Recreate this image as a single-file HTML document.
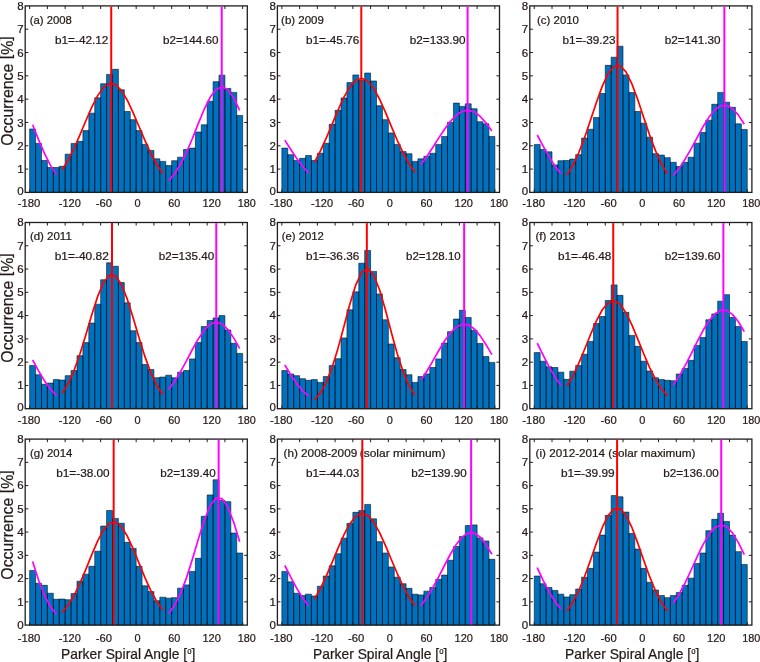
<!DOCTYPE html>
<html lang="en">
<head>
<meta charset="utf-8">
<title>Parker Spiral Angle occurrence histograms 2008-2014</title>
<style>
html,body{margin:0;padding:0;background:#fff;}
body{width:760px;height:662px;overflow:hidden;}
svg{display:block;transform:translateZ(0);will-change:transform;}
</style>
</head>
<body>
<svg width="760" height="662" viewBox="0 0 760 662" font-family="'Liberation Sans', sans-serif" fill="#231815" stroke="#231815" stroke-width="0.22">
<rect x="0" y="0" width="760" height="662" fill="#fff" stroke="none"/>
<g>
<path d="M29.65 192.4V128.99H35.57V192.4ZM35.57 192.4V143.44H41.48V192.4ZM41.48 192.4V160.46H47.4V192.4ZM47.4 192.4V167.46H53.32V192.4ZM53.32 192.4V167.46H59.23V192.4ZM59.23 192.4V166.29H65.15V192.4ZM65.15 192.4V154.17H71.07V192.4ZM71.07 192.4V143.44H76.99V192.4ZM76.99 192.4V141.35H82.9V192.4ZM82.9 192.4V130.62H88.82V192.4ZM88.82 192.4V113.14H94.74V192.4ZM94.74 192.4V97.75H100.65V192.4ZM100.65 192.4V83.76H106.57V192.4ZM106.57 192.4V74.44H112.49V192.4ZM112.49 192.4V69.31H118.41V192.4ZM118.41 192.4V89.83H124.32V192.4ZM124.32 192.4V111.51H130.24V192.4ZM130.24 192.4V119.67H136.16V192.4ZM136.16 192.4V130.62H142.07V192.4ZM142.07 192.4V144.38H147.99V192.4ZM147.99 192.4V150.44H153.91V192.4ZM153.91 192.4V158.83H159.82V192.4ZM159.82 192.4V161.39H165.74V192.4ZM165.74 192.4V165.59H171.66V192.4ZM171.66 192.4V160.69H177.57V192.4ZM177.57 192.4V157.2H183.49V192.4ZM183.49 192.4V149.5H189.41V192.4ZM189.41 192.4V148.11H195.33V192.4ZM195.33 192.4V132.02H201.24V192.4ZM201.24 192.4V124.79H207.16V192.4ZM207.16 192.4V101.25H213.08V192.4ZM213.08 192.4V81.67H218.99V192.4ZM218.99 192.4V75.14H224.91V192.4ZM224.91 192.4V88.43H230.83V192.4ZM230.83 192.4V92.39H236.75V192.4ZM236.75 192.4V115.47H242.66V192.4Z" fill="#0072bd" stroke="#001020" stroke-width="0.58" stroke-linejoin="miter"/>
<rect x="25.2" y="5.9" width="222.1" height="186.5" fill="none" stroke="#1e1e1e" stroke-width="1.3"/>
<path d="M29.65 5.9v3.1M29.65 192.4v-3.1M47.4 5.9v3.1M47.4 192.4v-3.1M65.15 5.9v3.1M65.15 192.4v-3.1M82.9 5.9v3.1M82.9 192.4v-3.1M100.65 5.9v3.1M100.65 192.4v-3.1M118.41 5.9v3.1M118.41 192.4v-3.1M136.16 5.9v3.1M136.16 192.4v-3.1M153.91 5.9v3.1M153.91 192.4v-3.1M171.66 5.9v3.1M171.66 192.4v-3.1M189.41 5.9v3.1M189.41 192.4v-3.1M207.16 5.9v3.1M207.16 192.4v-3.1M224.91 5.9v3.1M224.91 192.4v-3.1M242.66 5.9v3.1M242.66 192.4v-3.1M25.2 169.09h3.1M247.3 169.09h-3.1M25.2 145.78h3.1M247.3 145.78h-3.1M25.2 122.46h3.1M247.3 122.46h-3.1M25.2 99.15h3.1M247.3 99.15h-3.1M25.2 75.84h3.1M247.3 75.84h-3.1M25.2 52.53h3.1M247.3 52.53h-3.1M25.2 29.21h3.1M247.3 29.21h-3.1" fill="none" stroke="#1e1e1e" stroke-width="1"/>
<text x="23.6" y="195.3" font-size="11.5" text-anchor="end">0</text>
<text x="23.6" y="173.19" font-size="11.5" text-anchor="end">1</text>
<text x="23.6" y="149.88" font-size="11.5" text-anchor="end">2</text>
<text x="23.6" y="126.56" font-size="11.5" text-anchor="end">3</text>
<text x="23.6" y="103.25" font-size="11.5" text-anchor="end">4</text>
<text x="23.6" y="79.94" font-size="11.5" text-anchor="end">5</text>
<text x="23.6" y="56.63" font-size="11.5" text-anchor="end">6</text>
<text x="23.6" y="33.31" font-size="11.5" text-anchor="end">7</text>
<text x="23.6" y="10" font-size="11.5" text-anchor="end">8</text>
<text x="17.7" y="207.3" font-size="11.8" textLength="22.7" lengthAdjust="spacingAndGlyphs">-180</text>
<text x="58.8" y="207.3" font-size="11.8" textLength="22" lengthAdjust="spacingAndGlyphs">-120</text>
<text x="95.8" y="207.3" font-size="11.8" textLength="16.3" lengthAdjust="spacingAndGlyphs">-60</text>
<text x="134.6" y="207.3" font-size="11.8" textLength="6.1" lengthAdjust="spacingAndGlyphs">0</text>
<text x="168.3" y="207.3" font-size="11.8" textLength="12" lengthAdjust="spacingAndGlyphs">60</text>
<text x="202.4" y="207.3" font-size="11.8" textLength="18.4" lengthAdjust="spacingAndGlyphs">120</text>
<text x="237.7" y="207.3" font-size="11.8" textLength="18.1" lengthAdjust="spacingAndGlyphs">180</text>
<text x="29.8" y="23.6" font-size="11.3" textLength="42.1" lengthAdjust="spacingAndGlyphs">(a) 2008</text>
<text x="55" y="43.5" font-size="11.3" textLength="53.4" lengthAdjust="spacingAndGlyphs">b1=-42.12</text>
<text x="163" y="43.5" font-size="11.3" textLength="55.5" lengthAdjust="spacingAndGlyphs">b2=144.60</text>
<polyline points="62.19,169.75 68.11,160.05 74.03,148.26 79.94,134.87 85.86,120.77 91.78,107.21 97.7,95.62 103.61,87.36 109.53,83.5 115.45,84.56 121.36,90.38 127.28,100.2 133.2,112.81 139.11,126.76 145.03,140.7 150.95,153.49 156.87,164.43 162.78,173.2" fill="none" stroke="#ff0000" stroke-width="1.7" stroke-linecap="butt" stroke-linejoin="round"/>
<polyline points="168.7,180.62 174.62,173.7 180.53,164.29 186.45,152.39 192.37,138.48 198.28,123.59 204.2,109.28 210.12,97.32 216.04,89.42 221.95,86.8 227.87,89.87 233.79,98.14 239.7,110.36" fill="none" stroke="#ff00ff" stroke-width="1.7" stroke-linejoin="round"/>
<polyline points="32.61,124.79 38.53,139.64 44.44,153.42 50.36,165.13 56.28,174.34" fill="none" stroke="#ff00ff" stroke-width="1.7" stroke-linejoin="round"/>
<line x1="111.23" y1="6.5" x2="111.23" y2="191.8" stroke="#ff0000" stroke-width="2"/>
<line x1="221.72" y1="6.5" x2="221.72" y2="191.8" stroke="#ff00ff" stroke-width="2"/>
</g>
<g>
<path d="M281.85 192.4V148.11H287.77V192.4ZM287.77 192.4V154.63H293.68V192.4ZM293.68 192.4V160.46H299.6V192.4ZM299.6 192.4V158.36H305.52V192.4ZM305.52 192.4V155.57H311.43V192.4ZM311.43 192.4V160.46H317.35V192.4ZM317.35 192.4V153.24H323.27V192.4ZM323.27 192.4V143.21H329.19V192.4ZM329.19 192.4V124.33H335.1V192.4ZM335.1 192.4V110.34H341.02V192.4ZM341.02 192.4V97.98H346.94V192.4ZM346.94 192.4V82.6H352.85V192.4ZM352.85 192.4V74.91H358.77V192.4ZM358.77 192.4V80.27H364.69V192.4ZM364.69 192.4V73.04H370.6V192.4ZM370.6 192.4V80.97H376.52V192.4ZM376.52 192.4V105.68H382.44V192.4ZM382.44 192.4V119.67H388.36V192.4ZM388.36 192.4V132.95H394.27V192.4ZM394.27 192.4V144.38H400.19V192.4ZM400.19 192.4V151.6H406.11V192.4ZM406.11 192.4V153.7H412.02V192.4ZM412.02 192.4V161.39H417.94V192.4ZM417.94 192.4V158.83H423.86V192.4ZM423.86 192.4V156.27H429.77V192.4ZM429.77 192.4V153.24H435.69V192.4ZM435.69 192.4V144.38H441.61V192.4ZM441.61 192.4V136.45H447.53V192.4ZM447.53 192.4V122.23H453.44V192.4ZM453.44 192.4V103.11H459.36V192.4ZM459.36 192.4V106.38H465.28V192.4ZM465.28 192.4V103.81H471.19V192.4ZM471.19 192.4V108.71H477.11V192.4ZM477.11 192.4V121.76H483.03V192.4ZM483.03 192.4V123.86H488.94V192.4ZM488.94 192.4V136.45H494.86V192.4Z" fill="#0072bd" stroke="#001020" stroke-width="0.58" stroke-linejoin="miter"/>
<rect x="277.4" y="5.9" width="222.1" height="186.5" fill="none" stroke="#1e1e1e" stroke-width="1.3"/>
<path d="M281.85 5.9v3.1M281.85 192.4v-3.1M299.6 5.9v3.1M299.6 192.4v-3.1M317.35 5.9v3.1M317.35 192.4v-3.1M335.1 5.9v3.1M335.1 192.4v-3.1M352.85 5.9v3.1M352.85 192.4v-3.1M370.6 5.9v3.1M370.6 192.4v-3.1M388.36 5.9v3.1M388.36 192.4v-3.1M406.11 5.9v3.1M406.11 192.4v-3.1M423.86 5.9v3.1M423.86 192.4v-3.1M441.61 5.9v3.1M441.61 192.4v-3.1M459.36 5.9v3.1M459.36 192.4v-3.1M477.11 5.9v3.1M477.11 192.4v-3.1M494.86 5.9v3.1M494.86 192.4v-3.1M277.4 169.09h3.1M499.5 169.09h-3.1M277.4 145.78h3.1M499.5 145.78h-3.1M277.4 122.46h3.1M499.5 122.46h-3.1M277.4 99.15h3.1M499.5 99.15h-3.1M277.4 75.84h3.1M499.5 75.84h-3.1M277.4 52.53h3.1M499.5 52.53h-3.1M277.4 29.21h3.1M499.5 29.21h-3.1" fill="none" stroke="#1e1e1e" stroke-width="1"/>
<text x="275.8" y="195.3" font-size="11.5" text-anchor="end">0</text>
<text x="275.8" y="173.19" font-size="11.5" text-anchor="end">1</text>
<text x="275.8" y="149.88" font-size="11.5" text-anchor="end">2</text>
<text x="275.8" y="126.56" font-size="11.5" text-anchor="end">3</text>
<text x="275.8" y="103.25" font-size="11.5" text-anchor="end">4</text>
<text x="275.8" y="79.94" font-size="11.5" text-anchor="end">5</text>
<text x="275.8" y="56.63" font-size="11.5" text-anchor="end">6</text>
<text x="275.8" y="33.31" font-size="11.5" text-anchor="end">7</text>
<text x="275.8" y="10" font-size="11.5" text-anchor="end">8</text>
<text x="269.9" y="207.3" font-size="11.8" textLength="22.7" lengthAdjust="spacingAndGlyphs">-180</text>
<text x="311" y="207.3" font-size="11.8" textLength="22" lengthAdjust="spacingAndGlyphs">-120</text>
<text x="348" y="207.3" font-size="11.8" textLength="16.3" lengthAdjust="spacingAndGlyphs">-60</text>
<text x="386.8" y="207.3" font-size="11.8" textLength="6.1" lengthAdjust="spacingAndGlyphs">0</text>
<text x="420.5" y="207.3" font-size="11.8" textLength="12" lengthAdjust="spacingAndGlyphs">60</text>
<text x="454.6" y="207.3" font-size="11.8" textLength="18.4" lengthAdjust="spacingAndGlyphs">120</text>
<text x="489.9" y="207.3" font-size="11.8" textLength="18.1" lengthAdjust="spacingAndGlyphs">180</text>
<text x="281.1" y="23.6" font-size="11.3" textLength="42.8" lengthAdjust="spacingAndGlyphs">(b) 2009</text>
<text x="305.9" y="43.5" font-size="11.3" textLength="53.4" lengthAdjust="spacingAndGlyphs">b1=-45.76</text>
<text x="409.7" y="43.5" font-size="11.3" textLength="55.9" lengthAdjust="spacingAndGlyphs">b2=133.90</text>
<polyline points="314.39,162.32 320.31,151.16 326.23,138.21 332.14,124.16 338.06,110.05 343.98,97.15 349.9,86.81 355.81,80.22 361.73,78.18 367.65,80.94 373.56,88.17 379.48,98.97 385.4,112.15 391.31,126.33 397.23,140.27 403.15,152.98 409.07,163.83 414.98,172.56" fill="none" stroke="#ff0000" stroke-width="1.7" stroke-linecap="butt" stroke-linejoin="round"/>
<polyline points="420.9,164.55 426.82,156.38 432.73,147.41 438.65,138.12 444.57,129.16 450.48,121.24 456.4,115.07 462.32,111.23 468.24,110.12 474.15,111.85 480.07,116.24 485.99,122.86 491.9,131.07" fill="none" stroke="#ff00ff" stroke-width="1.7" stroke-linejoin="round"/>
<polyline points="284.81,140.16 290.73,149.43 296.64,158.26 302.56,166.21 308.48,172.99" fill="none" stroke="#ff00ff" stroke-width="1.7" stroke-linejoin="round"/>
<line x1="361.28" y1="6.5" x2="361.28" y2="191.8" stroke="#ff0000" stroke-width="2"/>
<line x1="467.58" y1="6.5" x2="467.58" y2="191.8" stroke="#ff00ff" stroke-width="2"/>
</g>
<g>
<path d="M534.25 192.4V144.38H540.17V192.4ZM540.17 192.4V149.5H546.08V192.4ZM546.08 192.4V151.84H552V192.4ZM552 192.4V164.89H557.92V192.4ZM557.92 192.4V160.69H563.84V192.4ZM563.84 192.4V160.46H569.75V192.4ZM569.75 192.4V159.06H575.67V192.4ZM575.67 192.4V154.63H581.59V192.4ZM581.59 192.4V138.08H587.5V192.4ZM587.5 192.4V129.22H593.42V192.4ZM593.42 192.4V117.57H599.34V192.4ZM599.34 192.4V93.56H605.25V192.4ZM605.25 192.4V65.35H611.17V192.4ZM611.17 192.4V57.19H617.09V192.4ZM617.09 192.4V46.23H623V192.4ZM623 192.4V74.91H628.92V192.4ZM628.92 192.4V92.62H634.84V192.4ZM634.84 192.4V111.51H640.76V192.4ZM640.76 192.4V123.16H646.67V192.4ZM646.67 192.4V137.15H652.59V192.4ZM652.59 192.4V153.7H658.51V192.4ZM658.51 192.4V155.1H664.42V192.4ZM664.42 192.4V157.66H670.34V192.4ZM670.34 192.4V162.33H676.26V192.4ZM676.26 192.4V166.52H682.18V192.4ZM682.17 192.4V162.33H688.09V192.4ZM688.09 192.4V157.2H694.01V192.4ZM694.01 192.4V143.21H699.93V192.4ZM699.93 192.4V132.49H705.84V192.4ZM705.84 192.4V120.13H711.76V192.4ZM711.76 192.4V104.28H717.68V192.4ZM717.68 192.4V92.39H723.59V192.4ZM723.59 192.4V102.18H729.51V192.4ZM729.51 192.4V107.31H735.43V192.4ZM735.43 192.4V123.86H741.35V192.4ZM741.35 192.4V129.46H747.26V192.4Z" fill="#0072bd" stroke="#001020" stroke-width="0.58" stroke-linejoin="miter"/>
<rect x="529.8" y="5.9" width="222.1" height="186.5" fill="none" stroke="#1e1e1e" stroke-width="1.3"/>
<path d="M534.25 5.9v3.1M534.25 192.4v-3.1M552 5.9v3.1M552 192.4v-3.1M569.75 5.9v3.1M569.75 192.4v-3.1M587.5 5.9v3.1M587.5 192.4v-3.1M605.25 5.9v3.1M605.25 192.4v-3.1M623 5.9v3.1M623 192.4v-3.1M640.76 5.9v3.1M640.76 192.4v-3.1M658.51 5.9v3.1M658.51 192.4v-3.1M676.26 5.9v3.1M676.26 192.4v-3.1M694.01 5.9v3.1M694.01 192.4v-3.1M711.76 5.9v3.1M711.76 192.4v-3.1M729.51 5.9v3.1M729.51 192.4v-3.1M747.26 5.9v3.1M747.26 192.4v-3.1M529.8 169.09h3.1M751.9 169.09h-3.1M529.8 145.78h3.1M751.9 145.78h-3.1M529.8 122.46h3.1M751.9 122.46h-3.1M529.8 99.15h3.1M751.9 99.15h-3.1M529.8 75.84h3.1M751.9 75.84h-3.1M529.8 52.53h3.1M751.9 52.53h-3.1M529.8 29.21h3.1M751.9 29.21h-3.1" fill="none" stroke="#1e1e1e" stroke-width="1"/>
<text x="528.2" y="195.3" font-size="11.5" text-anchor="end">0</text>
<text x="528.2" y="173.19" font-size="11.5" text-anchor="end">1</text>
<text x="528.2" y="149.88" font-size="11.5" text-anchor="end">2</text>
<text x="528.2" y="126.56" font-size="11.5" text-anchor="end">3</text>
<text x="528.2" y="103.25" font-size="11.5" text-anchor="end">4</text>
<text x="528.2" y="79.94" font-size="11.5" text-anchor="end">5</text>
<text x="528.2" y="56.63" font-size="11.5" text-anchor="end">6</text>
<text x="528.2" y="33.31" font-size="11.5" text-anchor="end">7</text>
<text x="528.2" y="10" font-size="11.5" text-anchor="end">8</text>
<text x="522.3" y="207.3" font-size="11.8" textLength="22.7" lengthAdjust="spacingAndGlyphs">-180</text>
<text x="563.4" y="207.3" font-size="11.8" textLength="22" lengthAdjust="spacingAndGlyphs">-120</text>
<text x="600.4" y="207.3" font-size="11.8" textLength="16.3" lengthAdjust="spacingAndGlyphs">-60</text>
<text x="639.2" y="207.3" font-size="11.8" textLength="6.1" lengthAdjust="spacingAndGlyphs">0</text>
<text x="672.9" y="207.3" font-size="11.8" textLength="12" lengthAdjust="spacingAndGlyphs">60</text>
<text x="707" y="207.3" font-size="11.8" textLength="18.4" lengthAdjust="spacingAndGlyphs">120</text>
<text x="742.3" y="207.3" font-size="11.8" textLength="18.1" lengthAdjust="spacingAndGlyphs">180</text>
<text x="537" y="23.6" font-size="11.3" textLength="42" lengthAdjust="spacingAndGlyphs">(c) 2010</text>
<text x="562.4" y="43.5" font-size="11.3" textLength="53.2" lengthAdjust="spacingAndGlyphs">b1=-39.23</text>
<text x="664.7" y="43.5" font-size="11.3" textLength="55.9" lengthAdjust="spacingAndGlyphs">b2=141.30</text>
<polyline points="566.79,175.12 572.71,165.6 578.63,153.05 584.54,137.68 590.46,120.31 596.38,102.46 602.3,86.11 608.21,73.42 614.13,66.26 620.05,65.73 625.96,71.92 631.88,83.86 637.8,99.79 643.71,117.55 649.63,135.1 655.55,150.86 661.47,163.87 667.38,173.84" fill="none" stroke="#ff0000" stroke-width="1.7" stroke-linecap="butt" stroke-linejoin="round"/>
<polyline points="673.3,175.43 679.22,168.13 685.13,159.18 691.05,148.89 696.97,137.86 702.88,126.99 708.8,117.33 714.72,109.94 720.64,105.74 726.55,105.24 732.47,108.52 738.39,115.15 744.3,124.32" fill="none" stroke="#ff00ff" stroke-width="1.7" stroke-linejoin="round"/>
<polyline points="537.21,134.98 543.13,146.06 549.04,156.62 554.96,165.96 560.88,173.7" fill="none" stroke="#ff00ff" stroke-width="1.7" stroke-linejoin="round"/>
<line x1="617.54" y1="6.5" x2="617.54" y2="191.8" stroke="#ff0000" stroke-width="2"/>
<line x1="724.36" y1="6.5" x2="724.36" y2="191.8" stroke="#ff00ff" stroke-width="2"/>
</g>
<g>
<path d="M29.65 408.7V365.41H35.57V408.7ZM35.57 408.7V374.72H41.48V408.7ZM41.48 408.7V384.26H47.4V408.7ZM47.4 408.7V383.1H53.32V408.7ZM53.32 408.7V379.61H59.23V408.7ZM59.23 408.7V380.07H65.15V408.7ZM65.15 408.7V375.65H71.07V408.7ZM71.07 408.7V370.53H76.99V408.7ZM76.99 408.7V355.63H82.9V408.7ZM82.9 408.7V342.6H88.82V408.7ZM88.82 408.7V323.05H94.74V408.7ZM94.74 408.7V304.2H100.65V408.7ZM100.65 408.7V279.76H106.57V408.7ZM106.57 408.7V262.77H112.49V408.7ZM112.49 408.7V266.26H118.41V408.7ZM118.41 408.7V282.55H124.32V408.7ZM124.32 408.7V302.8H130.24V408.7ZM130.24 408.7V330.73H136.16V408.7ZM136.16 408.7V342.6H142.07V408.7ZM142.07 408.7V364.48H147.99V408.7ZM147.99 408.7V369.6H153.91V408.7ZM153.91 408.7V377.74H159.82V408.7ZM159.82 408.7V377.05H165.74V408.7ZM165.74 408.7V375.18H171.66V408.7ZM171.66 408.7V377.74H177.57V408.7ZM177.57 408.7V372.16H183.49V408.7ZM183.49 408.7V370.53H189.41V408.7ZM189.41 408.7V358.89H195.33V408.7ZM195.33 408.7V342.6H201.24V408.7ZM201.24 408.7V326.54H207.16V408.7ZM207.16 408.7V320.49H213.08V408.7ZM213.08 408.7V317.93H218.99V408.7ZM218.99 408.7V315.6H224.91V408.7ZM224.91 408.7V330.03H230.83V408.7ZM230.83 408.7V343.3H236.75V408.7ZM236.75 408.7V353.54H242.66V408.7Z" fill="#0072bd" stroke="#001020" stroke-width="0.58" stroke-linejoin="miter"/>
<rect x="25.2" y="222.5" width="222.1" height="186.2" fill="none" stroke="#1e1e1e" stroke-width="1.3"/>
<path d="M29.65 222.5v3.1M29.65 408.7v-3.1M47.4 222.5v3.1M47.4 408.7v-3.1M65.15 222.5v3.1M65.15 408.7v-3.1M82.9 222.5v3.1M82.9 408.7v-3.1M100.65 222.5v3.1M100.65 408.7v-3.1M118.41 222.5v3.1M118.41 408.7v-3.1M136.16 222.5v3.1M136.16 408.7v-3.1M153.91 222.5v3.1M153.91 408.7v-3.1M171.66 222.5v3.1M171.66 408.7v-3.1M189.41 222.5v3.1M189.41 408.7v-3.1M207.16 222.5v3.1M207.16 408.7v-3.1M224.91 222.5v3.1M224.91 408.7v-3.1M242.66 222.5v3.1M242.66 408.7v-3.1M25.2 385.43h3.1M247.3 385.43h-3.1M25.2 362.15h3.1M247.3 362.15h-3.1M25.2 338.88h3.1M247.3 338.88h-3.1M25.2 315.6h3.1M247.3 315.6h-3.1M25.2 292.32h3.1M247.3 292.32h-3.1M25.2 269.05h3.1M247.3 269.05h-3.1M25.2 245.78h3.1M247.3 245.78h-3.1" fill="none" stroke="#1e1e1e" stroke-width="1"/>
<text x="23.6" y="410.5" font-size="11.5" text-anchor="end">0</text>
<text x="23.6" y="389.28" font-size="11.5" text-anchor="end">1</text>
<text x="23.6" y="366" font-size="11.5" text-anchor="end">2</text>
<text x="23.6" y="342.73" font-size="11.5" text-anchor="end">3</text>
<text x="23.6" y="319.45" font-size="11.5" text-anchor="end">4</text>
<text x="23.6" y="296.18" font-size="11.5" text-anchor="end">5</text>
<text x="23.6" y="272.9" font-size="11.5" text-anchor="end">6</text>
<text x="23.6" y="249.62" font-size="11.5" text-anchor="end">7</text>
<text x="23.6" y="226.35" font-size="11.5" text-anchor="end">8</text>
<text x="17.7" y="424.2" font-size="11.8" textLength="22.7" lengthAdjust="spacingAndGlyphs">-180</text>
<text x="58.8" y="424.2" font-size="11.8" textLength="22" lengthAdjust="spacingAndGlyphs">-120</text>
<text x="95.8" y="424.2" font-size="11.8" textLength="16.3" lengthAdjust="spacingAndGlyphs">-60</text>
<text x="134.6" y="424.2" font-size="11.8" textLength="6.1" lengthAdjust="spacingAndGlyphs">0</text>
<text x="168.3" y="424.2" font-size="11.8" textLength="12" lengthAdjust="spacingAndGlyphs">60</text>
<text x="202.4" y="424.2" font-size="11.8" textLength="18.4" lengthAdjust="spacingAndGlyphs">120</text>
<text x="237.7" y="424.2" font-size="11.8" textLength="18.1" lengthAdjust="spacingAndGlyphs">180</text>
<text x="29.9" y="240.2" font-size="11.3" textLength="41.9" lengthAdjust="spacingAndGlyphs">(d) 2011</text>
<text x="54.7" y="260.1" font-size="11.3" textLength="54.1" lengthAdjust="spacingAndGlyphs">b1=-40.82</text>
<text x="158.8" y="260.1" font-size="11.3" textLength="55.3" lengthAdjust="spacingAndGlyphs">b2=135.40</text>
<polyline points="62.19,393.3 68.11,383.72 74.03,370.57 79.94,353.95 85.86,334.74 91.78,314.73 97.7,296.38 103.61,282.41 109.53,275.12 115.45,275.79 121.36,284.29 127.28,299.16 133.2,317.97 139.11,338.01 145.03,356.88 150.95,372.97 156.87,385.53 162.78,394.56" fill="none" stroke="#ff0000" stroke-width="1.7" stroke-linecap="butt" stroke-linejoin="round"/>
<polyline points="168.7,389.51 174.62,381.43 180.53,371.71 186.45,360.8 192.37,349.51 198.28,338.9 204.2,330.12 210.12,324.27 216.04,322.12 221.95,323.96 227.87,329.53 233.79,338.11 239.7,348.63" fill="none" stroke="#ff00ff" stroke-width="1.7" stroke-linejoin="round"/>
<polyline points="32.61,359.9 38.53,370.87 44.44,380.71 50.36,388.93 56.28,395.37" fill="none" stroke="#ff00ff" stroke-width="1.7" stroke-linejoin="round"/>
<line x1="112" y1="223.1" x2="112" y2="408.1" stroke="#ff0000" stroke-width="2"/>
<line x1="216.27" y1="223.1" x2="216.27" y2="408.1" stroke="#ff00ff" stroke-width="2"/>
</g>
<g>
<path d="M281.85 408.7V370.53H287.77V408.7ZM287.77 408.7V374.02H293.68V408.7ZM293.68 408.7V375.65H299.6V408.7ZM299.6 408.7V378.68H305.52V408.7ZM305.52 408.7V380.3H311.43V408.7ZM311.43 408.7V379.61H317.35V408.7ZM317.35 408.7V382.4H323.27V408.7ZM323.27 408.7V376.58H329.19V408.7ZM329.19 408.7V365.41H335.1V408.7ZM335.1 408.7V358.66H341.02V408.7ZM341.02 408.7V337.94H346.94V408.7ZM346.94 408.7V309.78H352.85V408.7ZM352.85 408.7V291.86H358.77V408.7ZM358.77 408.7V263.23H364.69V408.7ZM364.69 408.7V250.43H370.6V408.7ZM370.6 408.7V271.38H376.52V408.7ZM376.52 408.7V293.95H382.44V408.7ZM382.44 408.7V319.79H388.36V408.7ZM388.36 408.7V344H394.27V408.7ZM394.27 408.7V357.73H400.19V408.7ZM400.19 408.7V369.6H406.11V408.7ZM406.11 408.7V374.72H412.02V408.7ZM412.02 408.7V382.4H417.94V408.7ZM417.94 408.7V376.58H423.86V408.7ZM423.86 408.7V374.02H429.77V408.7ZM429.77 408.7V367.5H435.69V408.7ZM435.69 408.7V358.89H441.61V408.7ZM441.61 408.7V343.06H447.53V408.7ZM447.53 408.7V331.66H453.44V408.7ZM453.44 408.7V319.09H459.36V408.7ZM459.36 408.7V310.25H465.28V408.7ZM465.28 408.7V317.46H471.19V408.7ZM471.19 408.7V330.26H477.11V408.7ZM477.11 408.7V343.53H483.03V408.7ZM483.03 408.7V356.56H488.94V408.7ZM488.94 408.7V362.38H494.86V408.7Z" fill="#0072bd" stroke="#001020" stroke-width="0.58" stroke-linejoin="miter"/>
<rect x="277.4" y="222.5" width="222.1" height="186.2" fill="none" stroke="#1e1e1e" stroke-width="1.3"/>
<path d="M281.85 222.5v3.1M281.85 408.7v-3.1M299.6 222.5v3.1M299.6 408.7v-3.1M317.35 222.5v3.1M317.35 408.7v-3.1M335.1 222.5v3.1M335.1 408.7v-3.1M352.85 222.5v3.1M352.85 408.7v-3.1M370.6 222.5v3.1M370.6 408.7v-3.1M388.36 222.5v3.1M388.36 408.7v-3.1M406.11 222.5v3.1M406.11 408.7v-3.1M423.86 222.5v3.1M423.86 408.7v-3.1M441.61 222.5v3.1M441.61 408.7v-3.1M459.36 222.5v3.1M459.36 408.7v-3.1M477.11 222.5v3.1M477.11 408.7v-3.1M494.86 222.5v3.1M494.86 408.7v-3.1M277.4 385.43h3.1M499.5 385.43h-3.1M277.4 362.15h3.1M499.5 362.15h-3.1M277.4 338.88h3.1M499.5 338.88h-3.1M277.4 315.6h3.1M499.5 315.6h-3.1M277.4 292.32h3.1M499.5 292.32h-3.1M277.4 269.05h3.1M499.5 269.05h-3.1M277.4 245.78h3.1M499.5 245.78h-3.1" fill="none" stroke="#1e1e1e" stroke-width="1"/>
<text x="275.8" y="410.5" font-size="11.5" text-anchor="end">0</text>
<text x="275.8" y="389.28" font-size="11.5" text-anchor="end">1</text>
<text x="275.8" y="366" font-size="11.5" text-anchor="end">2</text>
<text x="275.8" y="342.73" font-size="11.5" text-anchor="end">3</text>
<text x="275.8" y="319.45" font-size="11.5" text-anchor="end">4</text>
<text x="275.8" y="296.18" font-size="11.5" text-anchor="end">5</text>
<text x="275.8" y="272.9" font-size="11.5" text-anchor="end">6</text>
<text x="275.8" y="249.62" font-size="11.5" text-anchor="end">7</text>
<text x="275.8" y="226.35" font-size="11.5" text-anchor="end">8</text>
<text x="269.9" y="424.2" font-size="11.8" textLength="22.7" lengthAdjust="spacingAndGlyphs">-180</text>
<text x="311" y="424.2" font-size="11.8" textLength="22" lengthAdjust="spacingAndGlyphs">-120</text>
<text x="348" y="424.2" font-size="11.8" textLength="16.3" lengthAdjust="spacingAndGlyphs">-60</text>
<text x="386.8" y="424.2" font-size="11.8" textLength="6.1" lengthAdjust="spacingAndGlyphs">0</text>
<text x="420.5" y="424.2" font-size="11.8" textLength="12" lengthAdjust="spacingAndGlyphs">60</text>
<text x="454.6" y="424.2" font-size="11.8" textLength="18.4" lengthAdjust="spacingAndGlyphs">120</text>
<text x="489.9" y="424.2" font-size="11.8" textLength="18.1" lengthAdjust="spacingAndGlyphs">180</text>
<text x="281.7" y="240.2" font-size="11.3" textLength="42.2" lengthAdjust="spacingAndGlyphs">(e) 2012</text>
<text x="305.9" y="260.1" font-size="11.3" textLength="53.4" lengthAdjust="spacingAndGlyphs">b1=-36.36</text>
<text x="406.1" y="260.1" font-size="11.3" textLength="54.6" lengthAdjust="spacingAndGlyphs">b2=128.10</text>
<polyline points="314.39,400.06 320.31,393.07 326.23,382.35 332.14,367.31 338.06,348.15 343.98,326.19 349.9,303.95 355.81,284.83 361.73,272.25 367.65,268.68 373.56,274.85 379.48,289.52 385.4,309.84 391.31,332.32 397.23,353.72 403.15,371.84 409.07,385.68 414.98,395.31" fill="none" stroke="#ff0000" stroke-width="1.7" stroke-linecap="butt" stroke-linejoin="round"/>
<polyline points="420.9,380.32 426.82,371.2 432.73,361.13 438.65,350.77 444.57,341 450.48,332.74 456.4,326.9 462.32,324.15 468.24,324.8 474.15,328.79 480.07,335.64 485.99,344.58 491.9,354.69" fill="none" stroke="#ff00ff" stroke-width="1.7" stroke-linejoin="round"/>
<polyline points="284.81,365.03 290.73,374.8 296.64,383.44 302.56,390.64 308.48,396.3" fill="none" stroke="#ff00ff" stroke-width="1.7" stroke-linejoin="round"/>
<line x1="366.84" y1="223.1" x2="366.84" y2="408.1" stroke="#ff0000" stroke-width="2"/>
<line x1="464.15" y1="223.1" x2="464.15" y2="408.1" stroke="#ff00ff" stroke-width="2"/>
</g>
<g>
<path d="M534.25 408.7V352.61H540.17V408.7ZM540.17 408.7V361.22H546.08V408.7ZM546.08 408.7V366.81H552V408.7ZM552 408.7V367.5H557.92V408.7ZM557.92 408.7V372.16H563.84V408.7ZM563.84 408.7V379.37H569.75V408.7ZM569.75 408.7V371.23H575.67V408.7ZM575.67 408.7V365.41H581.59V408.7ZM581.59 408.7V354.24H587.5V408.7ZM587.5 408.7V341.44H593.42V408.7ZM593.42 408.7V323.51H599.34V408.7ZM599.34 408.7V316.53H605.25V408.7ZM605.25 408.7V300.47H611.17V408.7ZM611.17 408.7V284.88H617.09V408.7ZM617.09 408.7V295.35H623V408.7ZM623 408.7V312.34H628.92V408.7ZM628.92 408.7V335.38H634.84V408.7ZM634.84 408.7V346.32H640.76V408.7ZM640.76 408.7V361.22H646.67V408.7ZM646.67 408.7V370.99H652.59V408.7ZM652.59 408.7V377.74H658.51V408.7ZM658.51 408.7V379.61H664.42V408.7ZM664.42 408.7V380.3H670.34V408.7ZM670.34 408.7V380.77H676.26V408.7ZM676.26 408.7V374.02H682.18V408.7ZM682.17 408.7V368.43H688.09V408.7ZM688.09 408.7V360.29H694.01V408.7ZM694.01 408.7V345.39H699.93V408.7ZM699.93 408.7V337.48H705.84V408.7ZM705.84 408.7V319.79H711.76V408.7ZM711.76 408.7V313.97H717.68V408.7ZM717.68 408.7V301.17H723.59V408.7ZM723.59 408.7V294.65H729.51V408.7ZM729.51 408.7V317.46H735.43V408.7ZM735.43 408.7V326.54H741.35V408.7ZM741.35 408.7V341.44H747.26V408.7Z" fill="#0072bd" stroke="#001020" stroke-width="0.58" stroke-linejoin="miter"/>
<rect x="529.8" y="222.5" width="222.1" height="186.2" fill="none" stroke="#1e1e1e" stroke-width="1.3"/>
<path d="M534.25 222.5v3.1M534.25 408.7v-3.1M552 222.5v3.1M552 408.7v-3.1M569.75 222.5v3.1M569.75 408.7v-3.1M587.5 222.5v3.1M587.5 408.7v-3.1M605.25 222.5v3.1M605.25 408.7v-3.1M623 222.5v3.1M623 408.7v-3.1M640.76 222.5v3.1M640.76 408.7v-3.1M658.51 222.5v3.1M658.51 408.7v-3.1M676.26 222.5v3.1M676.26 408.7v-3.1M694.01 222.5v3.1M694.01 408.7v-3.1M711.76 222.5v3.1M711.76 408.7v-3.1M729.51 222.5v3.1M729.51 408.7v-3.1M747.26 222.5v3.1M747.26 408.7v-3.1M529.8 385.43h3.1M751.9 385.43h-3.1M529.8 362.15h3.1M751.9 362.15h-3.1M529.8 338.88h3.1M751.9 338.88h-3.1M529.8 315.6h3.1M751.9 315.6h-3.1M529.8 292.32h3.1M751.9 292.32h-3.1M529.8 269.05h3.1M751.9 269.05h-3.1M529.8 245.78h3.1M751.9 245.78h-3.1" fill="none" stroke="#1e1e1e" stroke-width="1"/>
<text x="528.2" y="410.5" font-size="11.5" text-anchor="end">0</text>
<text x="528.2" y="389.28" font-size="11.5" text-anchor="end">1</text>
<text x="528.2" y="366" font-size="11.5" text-anchor="end">2</text>
<text x="528.2" y="342.73" font-size="11.5" text-anchor="end">3</text>
<text x="528.2" y="319.45" font-size="11.5" text-anchor="end">4</text>
<text x="528.2" y="296.18" font-size="11.5" text-anchor="end">5</text>
<text x="528.2" y="272.9" font-size="11.5" text-anchor="end">6</text>
<text x="528.2" y="249.62" font-size="11.5" text-anchor="end">7</text>
<text x="528.2" y="226.35" font-size="11.5" text-anchor="end">8</text>
<text x="522.3" y="424.2" font-size="11.8" textLength="22.7" lengthAdjust="spacingAndGlyphs">-180</text>
<text x="563.4" y="424.2" font-size="11.8" textLength="22" lengthAdjust="spacingAndGlyphs">-120</text>
<text x="600.4" y="424.2" font-size="11.8" textLength="16.3" lengthAdjust="spacingAndGlyphs">-60</text>
<text x="639.2" y="424.2" font-size="11.8" textLength="6.1" lengthAdjust="spacingAndGlyphs">0</text>
<text x="672.9" y="424.2" font-size="11.8" textLength="12" lengthAdjust="spacingAndGlyphs">60</text>
<text x="707" y="424.2" font-size="11.8" textLength="18.4" lengthAdjust="spacingAndGlyphs">120</text>
<text x="742.3" y="424.2" font-size="11.8" textLength="18.1" lengthAdjust="spacingAndGlyphs">180</text>
<text x="535.5" y="240.2" font-size="11.3" textLength="39.8" lengthAdjust="spacingAndGlyphs">(f) 2013</text>
<text x="557.9" y="260.1" font-size="11.3" textLength="53.4" lengthAdjust="spacingAndGlyphs">b1=-46.48</text>
<text x="664.7" y="260.1" font-size="11.3" textLength="55.9" lengthAdjust="spacingAndGlyphs">b2=139.60</text>
<polyline points="566.79,386.31 572.71,376.11 578.63,363.63 584.54,349.47 590.46,334.75 596.38,320.95 602.3,309.75 608.21,302.69 614.13,300.76 620.05,304.28 625.96,312.7 631.88,324.83 637.8,339.08 643.71,353.78 649.63,367.54 655.55,379.38 661.47,388.86 667.38,395.94" fill="none" stroke="#ff0000" stroke-width="1.7" stroke-linecap="butt" stroke-linejoin="round"/>
<polyline points="673.3,384.98 679.22,376.11 685.13,365.68 691.05,354.13 696.97,342.18 702.88,330.8 708.8,321.03 714.72,313.9 720.64,310.2 726.55,310.36 732.47,314.35 738.39,321.73 744.3,331.66" fill="none" stroke="#ff00ff" stroke-width="1.7" stroke-linejoin="round"/>
<polyline points="537.21,343.13 543.13,355.08 549.04,366.56 554.96,376.88 560.88,385.61" fill="none" stroke="#ff00ff" stroke-width="1.7" stroke-linejoin="round"/>
<line x1="613.25" y1="223.1" x2="613.25" y2="408.1" stroke="#ff0000" stroke-width="2"/>
<line x1="723.36" y1="223.1" x2="723.36" y2="408.1" stroke="#ff00ff" stroke-width="2"/>
</g>
<g>
<path d="M29.65 625.1V570.46H35.57V625.1ZM35.57 625.1V583.25H41.48V625.1ZM41.48 625.1V585.34H47.4V625.1ZM47.4 625.1V593.25H53.32V625.1ZM53.32 625.1V599.29H59.23V625.1ZM59.23 625.1V599.06H65.15V625.1ZM65.15 625.1V599.76H71.07V625.1ZM71.07 625.1V593.48H76.99V625.1ZM76.99 625.1V581.16H82.9V625.1ZM82.9 625.1V574.18H88.82V625.1ZM88.82 625.1V566.28H94.74V625.1ZM94.74 625.1V551.16H100.65V625.1ZM100.65 625.1V526.06H106.57V625.1ZM106.57 625.1V510.48H112.49V625.1ZM112.49 625.1V518.38H118.41V625.1ZM118.41 625.1V523.26H124.32V625.1ZM124.32 625.1V542.33H130.24V625.1ZM130.24 625.1V548.38H136.16V625.1ZM136.16 625.1V566.28H142.07V625.1ZM142.07 625.1V585.81H147.99V625.1ZM147.99 625.1V591.62H153.91V625.1ZM153.91 625.1V600.69H159.82V625.1ZM159.82 625.1V597.2H165.74V625.1ZM165.74 625.1V598.13H171.66V625.1ZM171.66 625.1V597.67H177.57V625.1ZM177.57 625.1V588.13H183.49V625.1ZM183.49 625.1V584.88H189.41V625.1ZM189.41 625.1V571.39H195.33V625.1ZM195.33 625.1V558.37H201.24V625.1ZM201.24 625.1V516.29H207.16V625.1ZM207.16 625.1V494.9H213.08V625.1ZM213.08 625.1V479.79H218.99V625.1ZM218.99 625.1V500.48H224.91V625.1ZM224.91 625.1V501.64H230.83V625.1ZM230.83 625.1V533.03H236.75V625.1ZM236.75 625.1V553.02H242.66V625.1Z" fill="#0072bd" stroke="#001020" stroke-width="0.58" stroke-linejoin="miter"/>
<rect x="25.2" y="439.1" width="222.1" height="186" fill="none" stroke="#1e1e1e" stroke-width="1.3"/>
<path d="M29.65 439.1v3.1M29.65 625.1v-3.1M47.4 439.1v3.1M47.4 625.1v-3.1M65.15 439.1v3.1M65.15 625.1v-3.1M82.9 439.1v3.1M82.9 625.1v-3.1M100.65 439.1v3.1M100.65 625.1v-3.1M118.41 439.1v3.1M118.41 625.1v-3.1M136.16 439.1v3.1M136.16 625.1v-3.1M153.91 439.1v3.1M153.91 625.1v-3.1M171.66 439.1v3.1M171.66 625.1v-3.1M189.41 439.1v3.1M189.41 625.1v-3.1M207.16 439.1v3.1M207.16 625.1v-3.1M224.91 439.1v3.1M224.91 625.1v-3.1M242.66 439.1v3.1M242.66 625.1v-3.1M25.2 601.85h3.1M247.3 601.85h-3.1M25.2 578.6h3.1M247.3 578.6h-3.1M25.2 555.35h3.1M247.3 555.35h-3.1M25.2 532.1h3.1M247.3 532.1h-3.1M25.2 508.85h3.1M247.3 508.85h-3.1M25.2 485.6h3.1M247.3 485.6h-3.1M25.2 462.35h3.1M247.3 462.35h-3.1" fill="none" stroke="#1e1e1e" stroke-width="1"/>
<text x="23.6" y="628.9" font-size="11.5" text-anchor="end">0</text>
<text x="23.6" y="605.7" font-size="11.5" text-anchor="end">1</text>
<text x="23.6" y="582.45" font-size="11.5" text-anchor="end">2</text>
<text x="23.6" y="559.2" font-size="11.5" text-anchor="end">3</text>
<text x="23.6" y="535.95" font-size="11.5" text-anchor="end">4</text>
<text x="23.6" y="512.7" font-size="11.5" text-anchor="end">5</text>
<text x="23.6" y="489.45" font-size="11.5" text-anchor="end">6</text>
<text x="23.6" y="466.2" font-size="11.5" text-anchor="end">7</text>
<text x="23.6" y="442.95" font-size="11.5" text-anchor="end">8</text>
<text x="17.7" y="642" font-size="11.8" textLength="22.7" lengthAdjust="spacingAndGlyphs">-180</text>
<text x="58.8" y="642" font-size="11.8" textLength="22" lengthAdjust="spacingAndGlyphs">-120</text>
<text x="95.8" y="642" font-size="11.8" textLength="16.3" lengthAdjust="spacingAndGlyphs">-60</text>
<text x="134.6" y="642" font-size="11.8" textLength="6.1" lengthAdjust="spacingAndGlyphs">0</text>
<text x="168.3" y="642" font-size="11.8" textLength="12" lengthAdjust="spacingAndGlyphs">60</text>
<text x="202.4" y="642" font-size="11.8" textLength="18.4" lengthAdjust="spacingAndGlyphs">120</text>
<text x="237.7" y="642" font-size="11.8" textLength="18.1" lengthAdjust="spacingAndGlyphs">180</text>
<text x="29.9" y="456.8" font-size="11.3" textLength="42.5" lengthAdjust="spacingAndGlyphs">(g) 2014</text>
<text x="56.2" y="476.7" font-size="11.3" textLength="53.5" lengthAdjust="spacingAndGlyphs">b1=-38.00</text>
<text x="160.3" y="476.7" font-size="11.3" textLength="55.3" lengthAdjust="spacingAndGlyphs">b2=139.40</text>
<polyline points="62.19,612.58 68.11,605.32 74.03,595.56 79.94,583.36 85.86,569.33 91.78,554.61 97.7,540.85 103.61,529.86 109.53,523.27 115.45,522.13 121.36,526.62 127.28,536.02 133.2,548.89 139.11,563.44 145.03,577.92 150.95,590.95 156.87,601.72 162.78,609.97" fill="none" stroke="#ff0000" stroke-width="1.7" stroke-linecap="butt" stroke-linejoin="round"/>
<polyline points="168.7,613.48 174.62,605.26 180.53,593.45 186.45,577.88 192.37,559.25 198.28,539.25 204.2,520.45 210.12,505.85 216.04,498.06 221.95,498.57 227.87,507.28 233.79,522.54 239.7,541.64" fill="none" stroke="#ff00ff" stroke-width="1.7" stroke-linejoin="round"/>
<polyline points="32.61,561.6 38.53,579.94 44.44,595.07 50.36,606.43 56.28,614.25" fill="none" stroke="#ff00ff" stroke-width="1.7" stroke-linejoin="round"/>
<line x1="113.67" y1="439.7" x2="113.67" y2="624.5" stroke="#ff0000" stroke-width="2"/>
<line x1="218.64" y1="439.7" x2="218.64" y2="624.5" stroke="#ff00ff" stroke-width="2"/>
</g>
<g>
<path d="M281.85 625.1V571.39H287.77V625.1ZM287.77 625.1V581.86H293.68V625.1ZM293.68 625.1V593.25H299.6V625.1ZM299.6 625.1V595.57H305.52V625.1ZM305.52 625.1V594.18H311.43V625.1ZM311.43 625.1V596.04H317.35V625.1ZM317.35 625.1V586.27H323.27V625.1ZM323.27 625.1V576.04H329.19V625.1ZM329.19 625.1V565.81H335.1V625.1ZM335.1 625.1V553.72H341.02V625.1ZM341.02 625.1V538.14H346.94V625.1ZM346.94 625.1V523.5H352.85V625.1ZM352.85 625.1V512.34H358.77V625.1ZM358.77 625.1V510.48H364.69V625.1ZM364.69 625.1V504.43H370.6V625.1ZM370.6 625.1V518.85H376.52V625.1ZM376.52 625.1V541.63H382.44V625.1ZM382.44 625.1V553.02H388.36V625.1ZM388.36 625.1V566.98H394.27V625.1ZM394.27 625.1V577.21H400.19V625.1ZM400.19 625.1V583.72H406.11V625.1ZM406.11 625.1V588.37H412.02V625.1ZM412.02 625.1V594.18H417.94V625.1ZM417.94 625.1V594.88H423.86V625.1ZM423.86 625.1V591.15H429.77V625.1ZM429.77 625.1V587.44H435.69V625.1ZM435.69 625.1V579.3H441.61V625.1ZM441.61 625.1V575.11H447.53V625.1ZM447.53 625.1V560.23H453.44V625.1ZM453.44 625.1V546.51H459.36V625.1ZM459.36 625.1V536.52H465.28V625.1ZM465.28 625.1V525.59H471.19V625.1ZM471.19 625.1V524.89H477.11V625.1ZM477.11 625.1V537.91H483.03V625.1ZM483.03 625.1V540.94H488.94V625.1ZM488.94 625.1V559.3H494.86V625.1Z" fill="#0072bd" stroke="#001020" stroke-width="0.58" stroke-linejoin="miter"/>
<rect x="277.4" y="439.1" width="222.1" height="186" fill="none" stroke="#1e1e1e" stroke-width="1.3"/>
<path d="M281.85 439.1v3.1M281.85 625.1v-3.1M299.6 439.1v3.1M299.6 625.1v-3.1M317.35 439.1v3.1M317.35 625.1v-3.1M335.1 439.1v3.1M335.1 625.1v-3.1M352.85 439.1v3.1M352.85 625.1v-3.1M370.6 439.1v3.1M370.6 625.1v-3.1M388.36 439.1v3.1M388.36 625.1v-3.1M406.11 439.1v3.1M406.11 625.1v-3.1M423.86 439.1v3.1M423.86 625.1v-3.1M441.61 439.1v3.1M441.61 625.1v-3.1M459.36 439.1v3.1M459.36 625.1v-3.1M477.11 439.1v3.1M477.11 625.1v-3.1M494.86 439.1v3.1M494.86 625.1v-3.1M277.4 601.85h3.1M499.5 601.85h-3.1M277.4 578.6h3.1M499.5 578.6h-3.1M277.4 555.35h3.1M499.5 555.35h-3.1M277.4 532.1h3.1M499.5 532.1h-3.1M277.4 508.85h3.1M499.5 508.85h-3.1M277.4 485.6h3.1M499.5 485.6h-3.1M277.4 462.35h3.1M499.5 462.35h-3.1" fill="none" stroke="#1e1e1e" stroke-width="1"/>
<text x="275.8" y="628.9" font-size="11.5" text-anchor="end">0</text>
<text x="275.8" y="605.7" font-size="11.5" text-anchor="end">1</text>
<text x="275.8" y="582.45" font-size="11.5" text-anchor="end">2</text>
<text x="275.8" y="559.2" font-size="11.5" text-anchor="end">3</text>
<text x="275.8" y="535.95" font-size="11.5" text-anchor="end">4</text>
<text x="275.8" y="512.7" font-size="11.5" text-anchor="end">5</text>
<text x="275.8" y="489.45" font-size="11.5" text-anchor="end">6</text>
<text x="275.8" y="466.2" font-size="11.5" text-anchor="end">7</text>
<text x="275.8" y="442.95" font-size="11.5" text-anchor="end">8</text>
<text x="269.9" y="642" font-size="11.8" textLength="22.7" lengthAdjust="spacingAndGlyphs">-180</text>
<text x="311" y="642" font-size="11.8" textLength="22" lengthAdjust="spacingAndGlyphs">-120</text>
<text x="348" y="642" font-size="11.8" textLength="16.3" lengthAdjust="spacingAndGlyphs">-60</text>
<text x="386.8" y="642" font-size="11.8" textLength="6.1" lengthAdjust="spacingAndGlyphs">0</text>
<text x="420.5" y="642" font-size="11.8" textLength="12" lengthAdjust="spacingAndGlyphs">60</text>
<text x="454.6" y="642" font-size="11.8" textLength="18.4" lengthAdjust="spacingAndGlyphs">120</text>
<text x="489.9" y="642" font-size="11.8" textLength="18.1" lengthAdjust="spacingAndGlyphs">180</text>
<text x="283.5" y="456.8" font-size="11.3" textLength="73.7" lengthAdjust="spacingAndGlyphs">(h) 2008-2009</text>
<text x="359.7" y="456.8" font-size="11.3" textLength="85.9" lengthAdjust="spacingAndGlyphs">(solar minimum)</text>
<text x="305.9" y="476.7" font-size="11.3" textLength="53.4" lengthAdjust="spacingAndGlyphs">b1=-44.03</text>
<text x="411.2" y="476.7" font-size="11.3" textLength="55.6" lengthAdjust="spacingAndGlyphs">b2=139.90</text>
<polyline points="314.39,599.03 320.31,588.56 326.23,576.12 332.14,562.3 338.06,548.07 343.98,534.72 349.9,523.67 355.81,516.22 361.73,513.29 367.65,515.27 373.56,521.91 379.48,532.36 385.4,545.37 391.31,559.53 397.23,573.52 403.15,586.29 409.07,597.17 414.98,605.87" fill="none" stroke="#ff0000" stroke-width="1.7" stroke-linecap="butt" stroke-linejoin="round"/>
<polyline points="420.9,605.63 426.82,597.6 432.73,587.89 438.65,576.88 444.57,565.26 450.48,553.99 456.4,544.18 462.32,536.9 468.24,533.04 474.15,533.08 480.07,537.02 485.99,544.35 491.9,554.21" fill="none" stroke="#ff00ff" stroke-width="1.7" stroke-linejoin="round"/>
<polyline points="284.81,565.5 290.73,577.11 296.64,588.09 302.56,597.77 308.48,605.77" fill="none" stroke="#ff00ff" stroke-width="1.7" stroke-linejoin="round"/>
<line x1="362.3" y1="439.7" x2="362.3" y2="624.5" stroke="#ff0000" stroke-width="2"/>
<line x1="471.13" y1="439.7" x2="471.13" y2="624.5" stroke="#ff00ff" stroke-width="2"/>
</g>
<g>
<path d="M534.25 625.1V576.04H540.17V625.1ZM540.17 625.1V583.72H546.08V625.1ZM546.08 625.1V587.44H552V625.1ZM552 625.1V590.46H557.92V625.1ZM557.92 625.1V594.18H563.84V625.1ZM563.84 625.1V596.97H569.75V625.1ZM569.75 625.1V594.64H575.67V625.1ZM575.67 625.1V589.06H581.59V625.1ZM581.59 625.1V577.21H587.5V625.1ZM587.5 625.1V568.37H593.42V625.1ZM593.42 625.1V552.1H599.34V625.1ZM599.34 625.1V535.12H605.25V625.1ZM605.25 625.1V515.36H611.17V625.1ZM611.17 625.1V495.6H617.09V625.1ZM617.09 625.1V496.76H623V625.1ZM623 625.1V512.11H628.92V625.1ZM628.92 625.1V533.5H634.84V625.1ZM634.84 625.1V549.07H640.76V625.1ZM640.76 625.1V568.37H646.67V625.1ZM646.67 625.1V582.32H652.59V625.1ZM652.59 625.1V589.99H658.51V625.1ZM658.51 625.1V595.57H664.42V625.1ZM664.42 625.1V597.67H670.34V625.1ZM670.34 625.1V595.57H676.26V625.1ZM676.26 625.1V592.55H682.18V625.1ZM682.17 625.1V585.34H688.09V625.1ZM688.09 625.1V578.13H694.01V625.1ZM694.01 625.1V563.49H699.93V625.1ZM699.93 625.1V553.02H705.84V625.1ZM705.84 625.1V530.71H711.76V625.1ZM711.76 625.1V519.31H717.68V625.1ZM717.68 625.1V513.27H723.59V625.1ZM723.59 625.1V521.4H729.51V625.1ZM729.51 625.1V535.12H735.43V625.1ZM735.43 625.1V551.63H741.35V625.1ZM741.35 625.1V564.42H747.26V625.1Z" fill="#0072bd" stroke="#001020" stroke-width="0.58" stroke-linejoin="miter"/>
<rect x="529.8" y="439.1" width="222.1" height="186" fill="none" stroke="#1e1e1e" stroke-width="1.3"/>
<path d="M534.25 439.1v3.1M534.25 625.1v-3.1M552 439.1v3.1M552 625.1v-3.1M569.75 439.1v3.1M569.75 625.1v-3.1M587.5 439.1v3.1M587.5 625.1v-3.1M605.25 439.1v3.1M605.25 625.1v-3.1M623 439.1v3.1M623 625.1v-3.1M640.76 439.1v3.1M640.76 625.1v-3.1M658.51 439.1v3.1M658.51 625.1v-3.1M676.26 439.1v3.1M676.26 625.1v-3.1M694.01 439.1v3.1M694.01 625.1v-3.1M711.76 439.1v3.1M711.76 625.1v-3.1M729.51 439.1v3.1M729.51 625.1v-3.1M747.26 439.1v3.1M747.26 625.1v-3.1M529.8 601.85h3.1M751.9 601.85h-3.1M529.8 578.6h3.1M751.9 578.6h-3.1M529.8 555.35h3.1M751.9 555.35h-3.1M529.8 532.1h3.1M751.9 532.1h-3.1M529.8 508.85h3.1M751.9 508.85h-3.1M529.8 485.6h3.1M751.9 485.6h-3.1M529.8 462.35h3.1M751.9 462.35h-3.1" fill="none" stroke="#1e1e1e" stroke-width="1"/>
<text x="528.2" y="628.9" font-size="11.5" text-anchor="end">0</text>
<text x="528.2" y="605.7" font-size="11.5" text-anchor="end">1</text>
<text x="528.2" y="582.45" font-size="11.5" text-anchor="end">2</text>
<text x="528.2" y="559.2" font-size="11.5" text-anchor="end">3</text>
<text x="528.2" y="535.95" font-size="11.5" text-anchor="end">4</text>
<text x="528.2" y="512.7" font-size="11.5" text-anchor="end">5</text>
<text x="528.2" y="489.45" font-size="11.5" text-anchor="end">6</text>
<text x="528.2" y="466.2" font-size="11.5" text-anchor="end">7</text>
<text x="528.2" y="442.95" font-size="11.5" text-anchor="end">8</text>
<text x="522.3" y="642" font-size="11.8" textLength="22.7" lengthAdjust="spacingAndGlyphs">-180</text>
<text x="563.4" y="642" font-size="11.8" textLength="22" lengthAdjust="spacingAndGlyphs">-120</text>
<text x="600.4" y="642" font-size="11.8" textLength="16.3" lengthAdjust="spacingAndGlyphs">-60</text>
<text x="639.2" y="642" font-size="11.8" textLength="6.1" lengthAdjust="spacingAndGlyphs">0</text>
<text x="672.9" y="642" font-size="11.8" textLength="12" lengthAdjust="spacingAndGlyphs">60</text>
<text x="707" y="642" font-size="11.8" textLength="18.4" lengthAdjust="spacingAndGlyphs">120</text>
<text x="742.3" y="642" font-size="11.8" textLength="18.1" lengthAdjust="spacingAndGlyphs">180</text>
<text x="535.5" y="456.8" font-size="11.3" textLength="160" lengthAdjust="spacingAndGlyphs">(i) 2012-2014 (solar maximum)</text>
<text x="560.9" y="476.7" font-size="11.3" textLength="53.8" lengthAdjust="spacingAndGlyphs">b1=-39.99</text>
<text x="663.2" y="476.7" font-size="11.3" textLength="55.6" lengthAdjust="spacingAndGlyphs">b2=136.00</text>
<polyline points="566.79,610.92 572.71,602.46 578.63,591.02 584.54,576.7 590.46,560.27 596.38,543.2 602.3,527.49 608.21,515.39 614.13,508.78 620.05,508.77 625.96,515.37 631.88,527.47 637.8,543.16 643.71,560.24 649.63,576.67 655.55,590.99 661.47,602.44 667.38,610.9" fill="none" stroke="#ff0000" stroke-width="1.7" stroke-linecap="butt" stroke-linejoin="round"/>
<polyline points="673.3,603.18 679.22,593.93 685.13,582.78 691.05,570.25 696.97,557.22 702.88,544.89 708.8,534.62 714.72,527.66 720.64,524.92 726.55,526.76 732.47,532.93 738.39,542.63 744.3,554.65" fill="none" stroke="#ff00ff" stroke-width="1.7" stroke-linejoin="round"/>
<polyline points="537.21,567.64 543.13,580.36 549.04,591.84 554.96,601.5 560.88,609.11" fill="none" stroke="#ff00ff" stroke-width="1.7" stroke-linejoin="round"/>
<line x1="617.09" y1="439.7" x2="617.09" y2="624.5" stroke="#ff0000" stroke-width="2"/>
<line x1="721.23" y1="439.7" x2="721.23" y2="624.5" stroke="#ff00ff" stroke-width="2"/>
</g>
<text transform="translate(12.8 145.7) rotate(-90)" font-size="16" textLength="109.4" lengthAdjust="spacingAndGlyphs">Occurrence <tspan dy="-1.8">[</tspan><tspan dy="1.8">%</tspan><tspan dy="-1.8">]</tspan></text>
<text transform="translate(12.8 362.7) rotate(-90)" font-size="16" textLength="109.4" lengthAdjust="spacingAndGlyphs">Occurrence <tspan dy="-1.8">[</tspan><tspan dy="1.8">%</tspan><tspan dy="-1.8">]</tspan></text>
<text transform="translate(12.8 579.7) rotate(-90)" font-size="16" textLength="109.4" lengthAdjust="spacingAndGlyphs">Occurrence <tspan dy="-1.8">[</tspan><tspan dy="1.8">%</tspan><tspan dy="-1.8">]</tspan></text>
<text x="61.1" y="659.2" font-size="14.6" textLength="134.2" lengthAdjust="spacingAndGlyphs">Parker Spiral Angle [<tspan font-size="8.2" dy="-5.6">o</tspan><tspan dy="5.6">]</tspan></text>
<text x="313.1" y="659.2" font-size="14.6" textLength="134.2" lengthAdjust="spacingAndGlyphs">Parker Spiral Angle [<tspan font-size="8.2" dy="-5.6">o</tspan><tspan dy="5.6">]</tspan></text>
<text x="565.1" y="659.2" font-size="14.6" textLength="134.2" lengthAdjust="spacingAndGlyphs">Parker Spiral Angle [<tspan font-size="8.2" dy="-5.6">o</tspan><tspan dy="5.6">]</tspan></text>
</svg>
</body>
</html>
